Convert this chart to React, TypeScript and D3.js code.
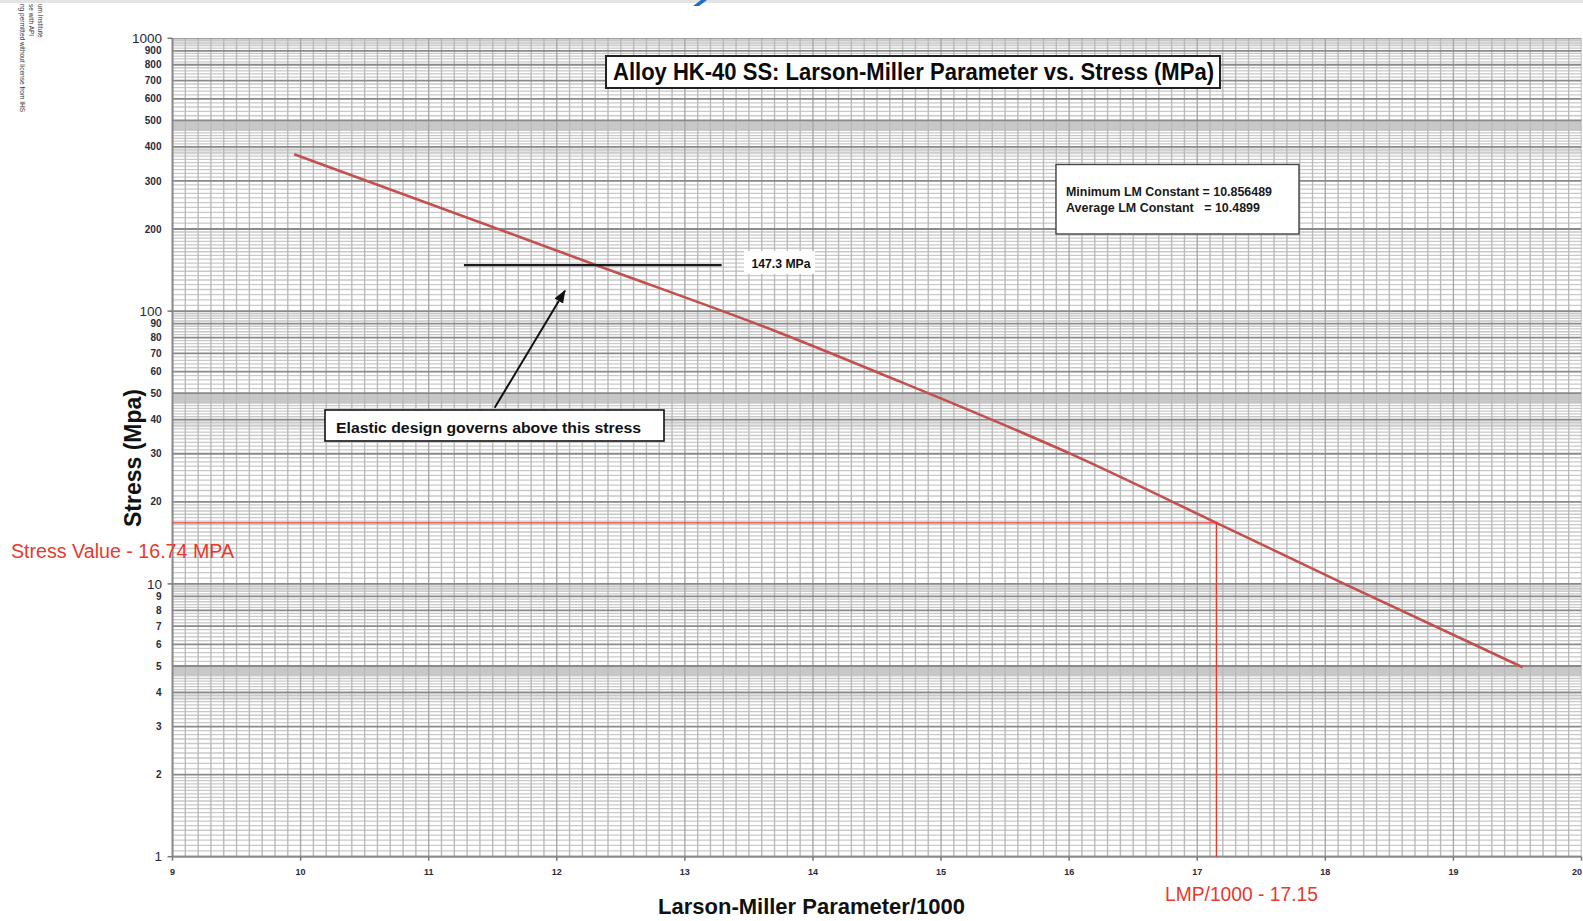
import React from "react";
import * as d3 from "d3";

// ---- data ----
const lmpValues = [9.95, 12.31, 13.74, 14.52, 16.03, 17.15, 18.14, 19.54];
const stressValues = [376, 147.3, 83.3, 59.2, 29.7, 16.74, 10.05, 4.95];

const xTicks = [9, 10, 11, 12, 13, 14, 15, 16, 17, 18, 19, 20];
const yMajorTicks = [1, 10, 100, 1000];
const yMinorLabels = [2, 3, 4, 5, 6, 7, 8, 9, 20, 30, 40, 50, 60, 70, 80, 90, 200, 300, 400, 500, 600, 700, 800, 900];

const elasticStress = 147.3;
const elasticRange = [11.275, 13.287];
const readStress = 16.74;
const readLmp = 17.15;

const titleText = "Alloy HK-40 SS: Larson-Miller Parameter vs. Stress (MPa)";
const statLines = ["Minimum LM Constant = 10.856489", "Average LM Constant   = 10.4899"];
const copyLines = ["um Institute", "se with API", "ng permitted without license from IHS"];

// log paper subdivisions within a decade (units 1..10)
const subdivisions: [number, number, number][] = [
  [1, 2, 0.05],
  [2, 5, 0.1],
  [5, 10, 0.2],
];
const bands: [number, number, number][] = [
  [4.6, 5, 0.95],
  [3.75, 4, 0.45],
  [9.45, 10, 0.45],
];

export default function App() {
  const W = 1583;
  const H = 921;
  const x = d3.scaleLinear().domain([9, 20]).range([172.5, 1581.5]);
  const y = d3.scaleLog().domain([1, 1000]).range([856.7, 38.3]);
  const X0 = x(9), X1 = x(20), YT = y(1000), YB = y(1);

  const decades = [1, 10, 100];
  const minorH: number[] = [];
  const majorH: number[] = [];
  decades.forEach((d) => {
    for (let k = 1; k <= 9; k++) majorH.push(k * d);
    subdivisions.forEach(([a, b, s]) => {
      const n = Math.round((b - a) / s);
      for (let i = 1; i < n; i++) {
        const v = a + i * s;
        if (Math.abs(v - Math.round(v)) < 1e-6) continue;
        minorH.push(v * d);
      }
    });
  });
  majorH.push(1000);

  const vLines: number[] = [];
  for (let i = 0; i <= 110; i++) vLines.push(9 + i / 10);

  const pts: [number, number][] = lmpValues.map((v, i) => [v, stressValues[i]]);
  const line = d3
    .line<[number, number]>()
    .x((d) => x(d[0]))
    .y((d) => y(d[1]))
    .curve(d3.curveMonotoneX);

  const red = "#e8392d";
  const font = "Liberation Sans, Arial, sans-serif";
  const narrow = "'Liberation Sans Narrow', 'Arial Narrow', 'Liberation Sans', Arial, sans-serif";

  // annotation anchors in data units
  const arrowTail = [11.515, 44.2];
  const arrowTip = [12.064, 118.8];

  return (
    <svg
      width={W}
      height={H}
      style={{ position: "absolute", left: 0, top: 0, display: "block", background: "#fff" }}
      fontFamily={font}
    >
      <defs>
        <marker id="ah" markerUnits="userSpaceOnUse" markerWidth="14" markerHeight="12" refX="12" refY="5" orient="auto">
          <path d="M0,0 L13,5 L0,10 Z" fill="#111" />
        </marker>
        <clipPath id="plot">
          <rect x={X0} y={YT} width={X1 - X0} height={YB - YT} />
        </clipPath>
      </defs>
      <rect x={0} y={0} width={W} height={H} fill="#fff" />
      <rect x={0} y={0} width={W} height={3} fill="#e4e4e4" />
      <polygon points="693,6 699,6 707,0 701,0" fill="#1a6fc9" />

      {copyLines.map((t, i) => (
        <text key={t} transform={`translate(${38 - i * 9},4) rotate(90)`} fontSize={6.5} fill="#333">
          {t}
        </text>
      ))}

      {/* grid */}
      <g clipPath="url(#plot)">
        {decades.map((d) =>
          bands.map(([lo, hi, op]) => (
            <rect
              key={`b${d}-${lo}`}
              x={X0}
              width={X1 - X0}
              y={y(hi * d)}
              height={y(lo * d) - y(hi * d)}
              fill="#c2c2c2"
              opacity={d === 10 && hi === 10 ? 0.2 : op}
            />
          ))
        )}
        {minorH.map((v) => (
          <line key={`mh${v}`} x1={X0} x2={X1} y1={y(v)} y2={y(v)} stroke="#c9c9c9" strokeWidth={1.3} />
        ))}
        {vLines.map((v) => {
          const isInt = Math.abs(v - Math.round(v)) < 1e-6;
          return (
            <line
              key={`v${v}`}
              x1={x(v)}
              x2={x(v)}
              y1={YT}
              y2={YB}
              stroke={isInt ? "#a8a8a8" : "#bababa"}
              strokeWidth={1.4}
            />
          );
        })}
        {majorH.map((v) => (
          <line key={`MH${v}`} x1={X0} x2={X1} y1={y(v)} y2={y(v)} stroke="#8a8a8a" strokeWidth={1.8} />
        ))}
      </g>

      {/* axes */}
      <line x1={X0} x2={X0} y1={YT} y2={YB} stroke="#8a8a8a" strokeWidth={2} />
      <line x1={X0} x2={X1} y1={YB} y2={YB} stroke="#8a8a8a" strokeWidth={2} />
      {yMajorTicks.map((v) => (
        <g key={`yt${v}`}>
          <line x1={X0 - 5} x2={X0} y1={y(v)} y2={y(v)} stroke="#777" strokeWidth={1.5} />
          <text x={162} y={y(v) + 4.7} fontSize={13.5} textAnchor="end" fill="#2a2a3a">
            {v}
          </text>
        </g>
      ))}
      {yMinorLabels.map((v) => (
        <text key={`yl${v}`} x={161.5} y={y(v) + 3.6} fontSize={10} fontWeight={600} textAnchor="end" fill="#2a2a3a">
          {v}
        </text>
      ))}
      {xTicks.map((v, i) => {
        const last = i === xTicks.length - 1;
        return (
          <g key={`xt${v}`}>
            <line x1={x(v)} x2={x(v)} y1={YB} y2={YB + 4} stroke="#777" strokeWidth={1.5} />
            <text
              x={last ? W - 1 : x(v)}
              y={875}
              fontSize={9}
              fontWeight={600}
              textAnchor={last ? "end" : "middle"}
              fill="#2a2a3a"
            >
              {v}
            </text>
          </g>
        );
      })}

      {/* axis titles */}
      <text
        transform={`translate(140.5,458) rotate(-90)`}
        fontSize={23}
        fontWeight="bold"
        textAnchor="middle"
        fill="#111"
      >
        Stress (Mpa)
      </text>
      <text x={811.5} y={913.5} fontSize={22} fontWeight="bold" textAnchor="middle" fill="#111">
        Larson-Miller Parameter/1000
      </text>

      {/* curve */}
      <path d={line(pts) || ""} fill="none" stroke="#c4504c" strokeWidth={2.6} />

      {/* read-off crosshair */}
      <line x1={X0} x2={x(readLmp)} y1={y(readStress)} y2={y(readStress)} stroke={red} strokeWidth={1.4} />
      <line x1={x(readLmp)} x2={x(readLmp)} y1={y(readStress)} y2={YB} stroke={red} strokeWidth={1.4} />
      <text x={11} y={558} fontSize={19.5} fill={red} textLength={223} lengthAdjust="spacingAndGlyphs">
        {`Stress Value - ${readStress} MPA`}
      </text>
      <text x={1165} y={901} fontSize={20} fill={red} textLength={153} lengthAdjust="spacingAndGlyphs">
        {`LMP/1000 - ${readLmp}`}
      </text>

      {/* elastic line */}
      <line
        x1={x(elasticRange[0])}
        x2={x(elasticRange[1])}
        y1={y(elasticStress)}
        y2={y(elasticStress)}
        stroke="#1a1a1a"
        strokeWidth={2.2}
      />
      <rect x={744} y={251} width={71} height={23} fill="#fff" />
      <text x={751.5} y={267.8} fontSize={12.5} fontWeight="bold" fill="#111" fontFamily={narrow} textLength={59} lengthAdjust="spacingAndGlyphs">
        {`${elasticStress} MPa`}
      </text>

      {/* arrow + callout */}
      <line
        x1={x(arrowTail[0])}
        y1={y(arrowTail[1])}
        x2={x(arrowTip[0])}
        y2={y(arrowTip[1])}
        stroke="#111"
        strokeWidth={2}
        markerEnd="url(#ah)"
      />
      <rect x={325} y={410} width={339} height={31} fill="#fff" stroke="#111" strokeWidth={1.6} />
      <text x={336} y={433.2} fontSize={14.5} fontWeight="bold" fill="#111" textLength={305} lengthAdjust="spacingAndGlyphs">
        Elastic design governs above this stress
      </text>

      {/* stats box */}
      <rect x={1056} y={164.5} width={243} height={69.5} fill="#fff" stroke="#444" strokeWidth={1.4} />
      {statLines.map((t, i) => (
        <text
          key={t}
          x={1066}
          y={195.5 + i * 16}
          fontSize={12.5}
          fontWeight="bold"
          fill="#1a1a1a"
          fontFamily={narrow}
          style={{ whiteSpace: "pre" }}
          textLength={i === 0 ? 206 : 194}
          lengthAdjust="spacingAndGlyphs"
        >
          {t}
        </text>
      ))}

      {/* title box */}
      <rect x={606} y={56} width={614} height={32} fill="#fff" stroke="#222" strokeWidth={2} />
      <text
        x={613}
        y={80.3}
        fontSize={23}
        fontWeight="bold"
        fill="#0a0a0a"
        fontFamily={narrow}
        textLength={601}
        lengthAdjust="spacingAndGlyphs"
      >
        {titleText}
      </text>
    </svg>
  );
}
